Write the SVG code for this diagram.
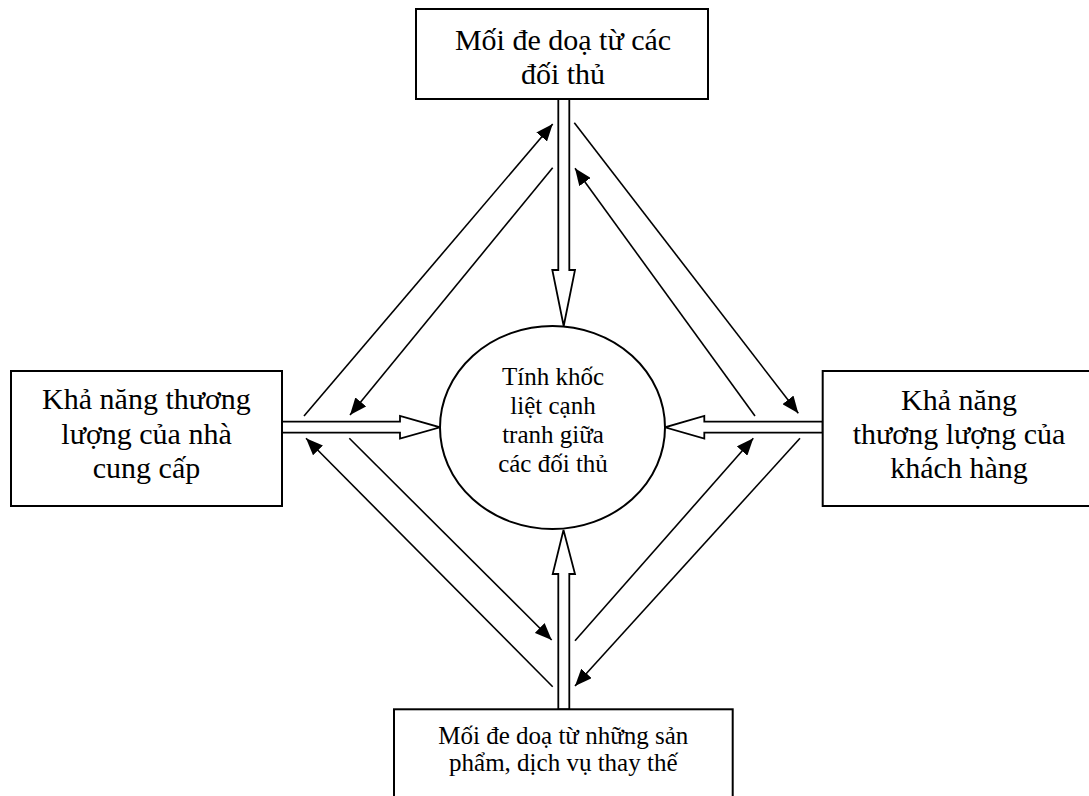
<svg xmlns="http://www.w3.org/2000/svg" width="1089" height="796" viewBox="0 0 1089 796">
  <style>
    .box { fill: #ffffff; stroke: #000000; stroke-width: 2; }
    .hollow { fill: #ffffff; stroke: #000000; stroke-width: 1.8; stroke-linejoin: miter; }
    .thin { fill: none; stroke: #000000; stroke-width: 1.6; marker-end: url(#head); }
    .lbl { font-family: "Liberation Serif", "Times New Roman", serif; fill: #000000; text-anchor: middle; }
    .big { font-size: 30px; }
    .mid { font-size: 25px; }
  </style>
  <defs>
    <marker id="head" markerUnits="userSpaceOnUse" markerWidth="18" markerHeight="14" refX="17" refY="7" orient="auto">
      <path d="M0,0 L17,7 L0,14 z" fill="#000000"/>
    </marker>
  </defs>
  <rect x="0" y="0" width="1089" height="796" fill="#ffffff"/>

  <!-- connectors -->
  <g id="connectors">
    <!-- wide hollow arrows into the centre -->
    <polygon class="hollow" points="558.3,99 558.3,270 552.3,270 563.7,326 575,270 569.3,270 569.3,99"/>
    <polygon class="hollow" points="282,421.7 400,421.7 400,416 440,427.3 400,438.5 400,432.7 282,432.7"/>
    <polygon class="hollow" points="822.7,421.7 704.3,421.7 704.3,416 665,427.3 704.3,438.5 704.3,432.7 822.7,432.7"/>
    <polygon class="hollow" points="558.3,709.3 558.3,574 552.7,574 563.5,530 575,574 569.3,574 569.3,709.3"/>
    <!-- thin two-way links between the outer forces -->
    <line class="thin" x1="304" y1="416" x2="552.7" y2="124"/>
    <line class="thin" x1="552.7" y1="167.7" x2="350" y2="415"/>
    <line class="thin" x1="574.3" y1="122.7" x2="798.3" y2="413.3"/>
    <line class="thin" x1="755" y1="416" x2="575" y2="168.3"/>
    <line class="thin" x1="552.7" y1="686.7" x2="306" y2="438.3"/>
    <line class="thin" x1="349.3" y1="438.3" x2="551.7" y2="640"/>
    <line class="thin" x1="575" y1="640.7" x2="753.3" y2="438.3"/>
    <line class="thin" x1="800" y1="438.3" x2="575" y2="686"/>
  </g>

  <g id="rivals">
    <rect class="box" x="416" y="9" width="292" height="90"/>
    <text class="lbl big" x="563" y="50">Mối đe doạ từ các</text>
    <text class="lbl big" x="563" y="84">đối thủ</text>
  </g>

  <g id="suppliers">
    <rect class="box" x="11" y="371" width="271" height="135"/>
    <text class="lbl big" x="146.5" y="409">Khả năng thương</text>
    <text class="lbl big" x="146.5" y="443.5">lượng của nhà</text>
    <text class="lbl big" x="146.5" y="478">cung cấp</text>
  </g>

  <g id="buyers">
    <rect class="box" x="822.7" y="371" width="273" height="135"/>
    <text class="lbl big" x="959" y="410">Khả năng</text>
    <text class="lbl big" x="959" y="444">thương lượng của</text>
    <text class="lbl big" x="959" y="478">khách hàng</text>
  </g>

  <g id="substitutes">
    <rect class="box" x="394" y="709.3" width="338.7" height="100"/>
    <text class="lbl mid" x="563.3" y="744">Mối đe doạ từ những sản</text>
    <text class="lbl mid" x="563.3" y="770.5">phẩm, dịch vụ thay thế</text>
  </g>

  <g id="rivalry">
    <ellipse class="box" cx="552.5" cy="427.5" rx="112.5" ry="101.5"/>
    <text class="lbl mid" x="553" y="384.5">Tính khốc</text>
    <text class="lbl mid" x="553" y="413.5">liệt cạnh</text>
    <text class="lbl mid" x="553" y="443">tranh giữa</text>
    <text class="lbl mid" x="553" y="472">các đối thủ</text>
  </g>
</svg>
